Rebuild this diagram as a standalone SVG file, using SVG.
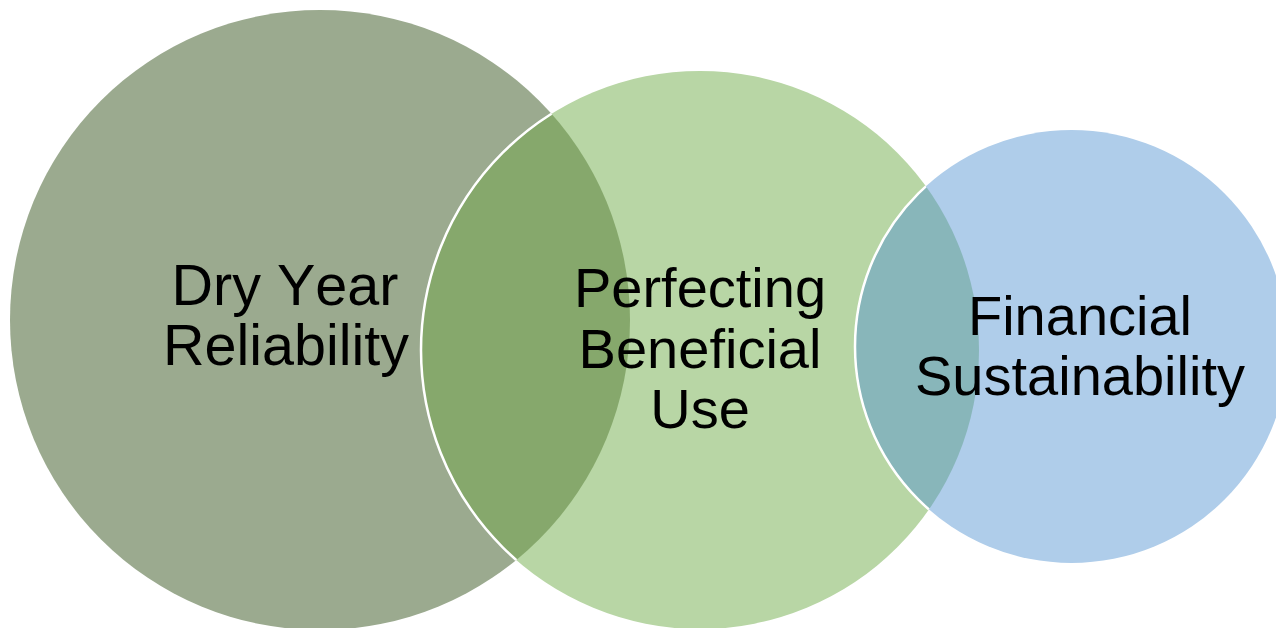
<svg xmlns="http://www.w3.org/2000/svg" width="1276" height="628" viewBox="0 0 1276 628">
<style>
.lbl{font-family:"Liberation Sans",Arial,sans-serif;font-size:56px;fill:#000;text-anchor:middle}
.big{font-size:57.5px;font-kerning:none}
</style>
<defs>
<clipPath id="clip1"><circle cx="320" cy="320" r="310"/></clipPath>
<clipPath id="clip2"><circle cx="700" cy="350" r="279"/></clipPath>
</defs>
<g id="node-dry-year">
<circle cx="320" cy="320" r="310" fill="#9BAA8F"/>
</g>
<g id="node-perfecting">
<circle cx="700" cy="350" r="279" fill="#B8D6A5"/>
<circle cx="700" cy="350" r="279" fill="#86A86C" stroke="#FFFFFF" stroke-width="2.5" clip-path="url(#clip1)"/>
</g>
<g id="node-financial">
<circle cx="1071.5" cy="346.5" r="216.5" fill="#AFCDEA"/>
<circle cx="1071.5" cy="346.5" r="216.5" fill="#88B6BA" stroke="#FFFFFF" stroke-width="2.5" clip-path="url(#clip2)"/>
</g>
<g id="connectors"></g>
<g id="labels">
<text class="lbl big" x="285" y="305">Dry Year</text>
<text class="lbl big" x="286" y="365">Reliability</text>
<text class="lbl" x="700" y="307">Perfecting</text>
<text class="lbl" x="700" y="368">Beneficial</text>
<text class="lbl" x="700" y="428">Use</text>
<text class="lbl" x="1080" y="335">Financial</text>
<text class="lbl" x="1080" y="395">Sustainability</text>
</g>
</svg>
